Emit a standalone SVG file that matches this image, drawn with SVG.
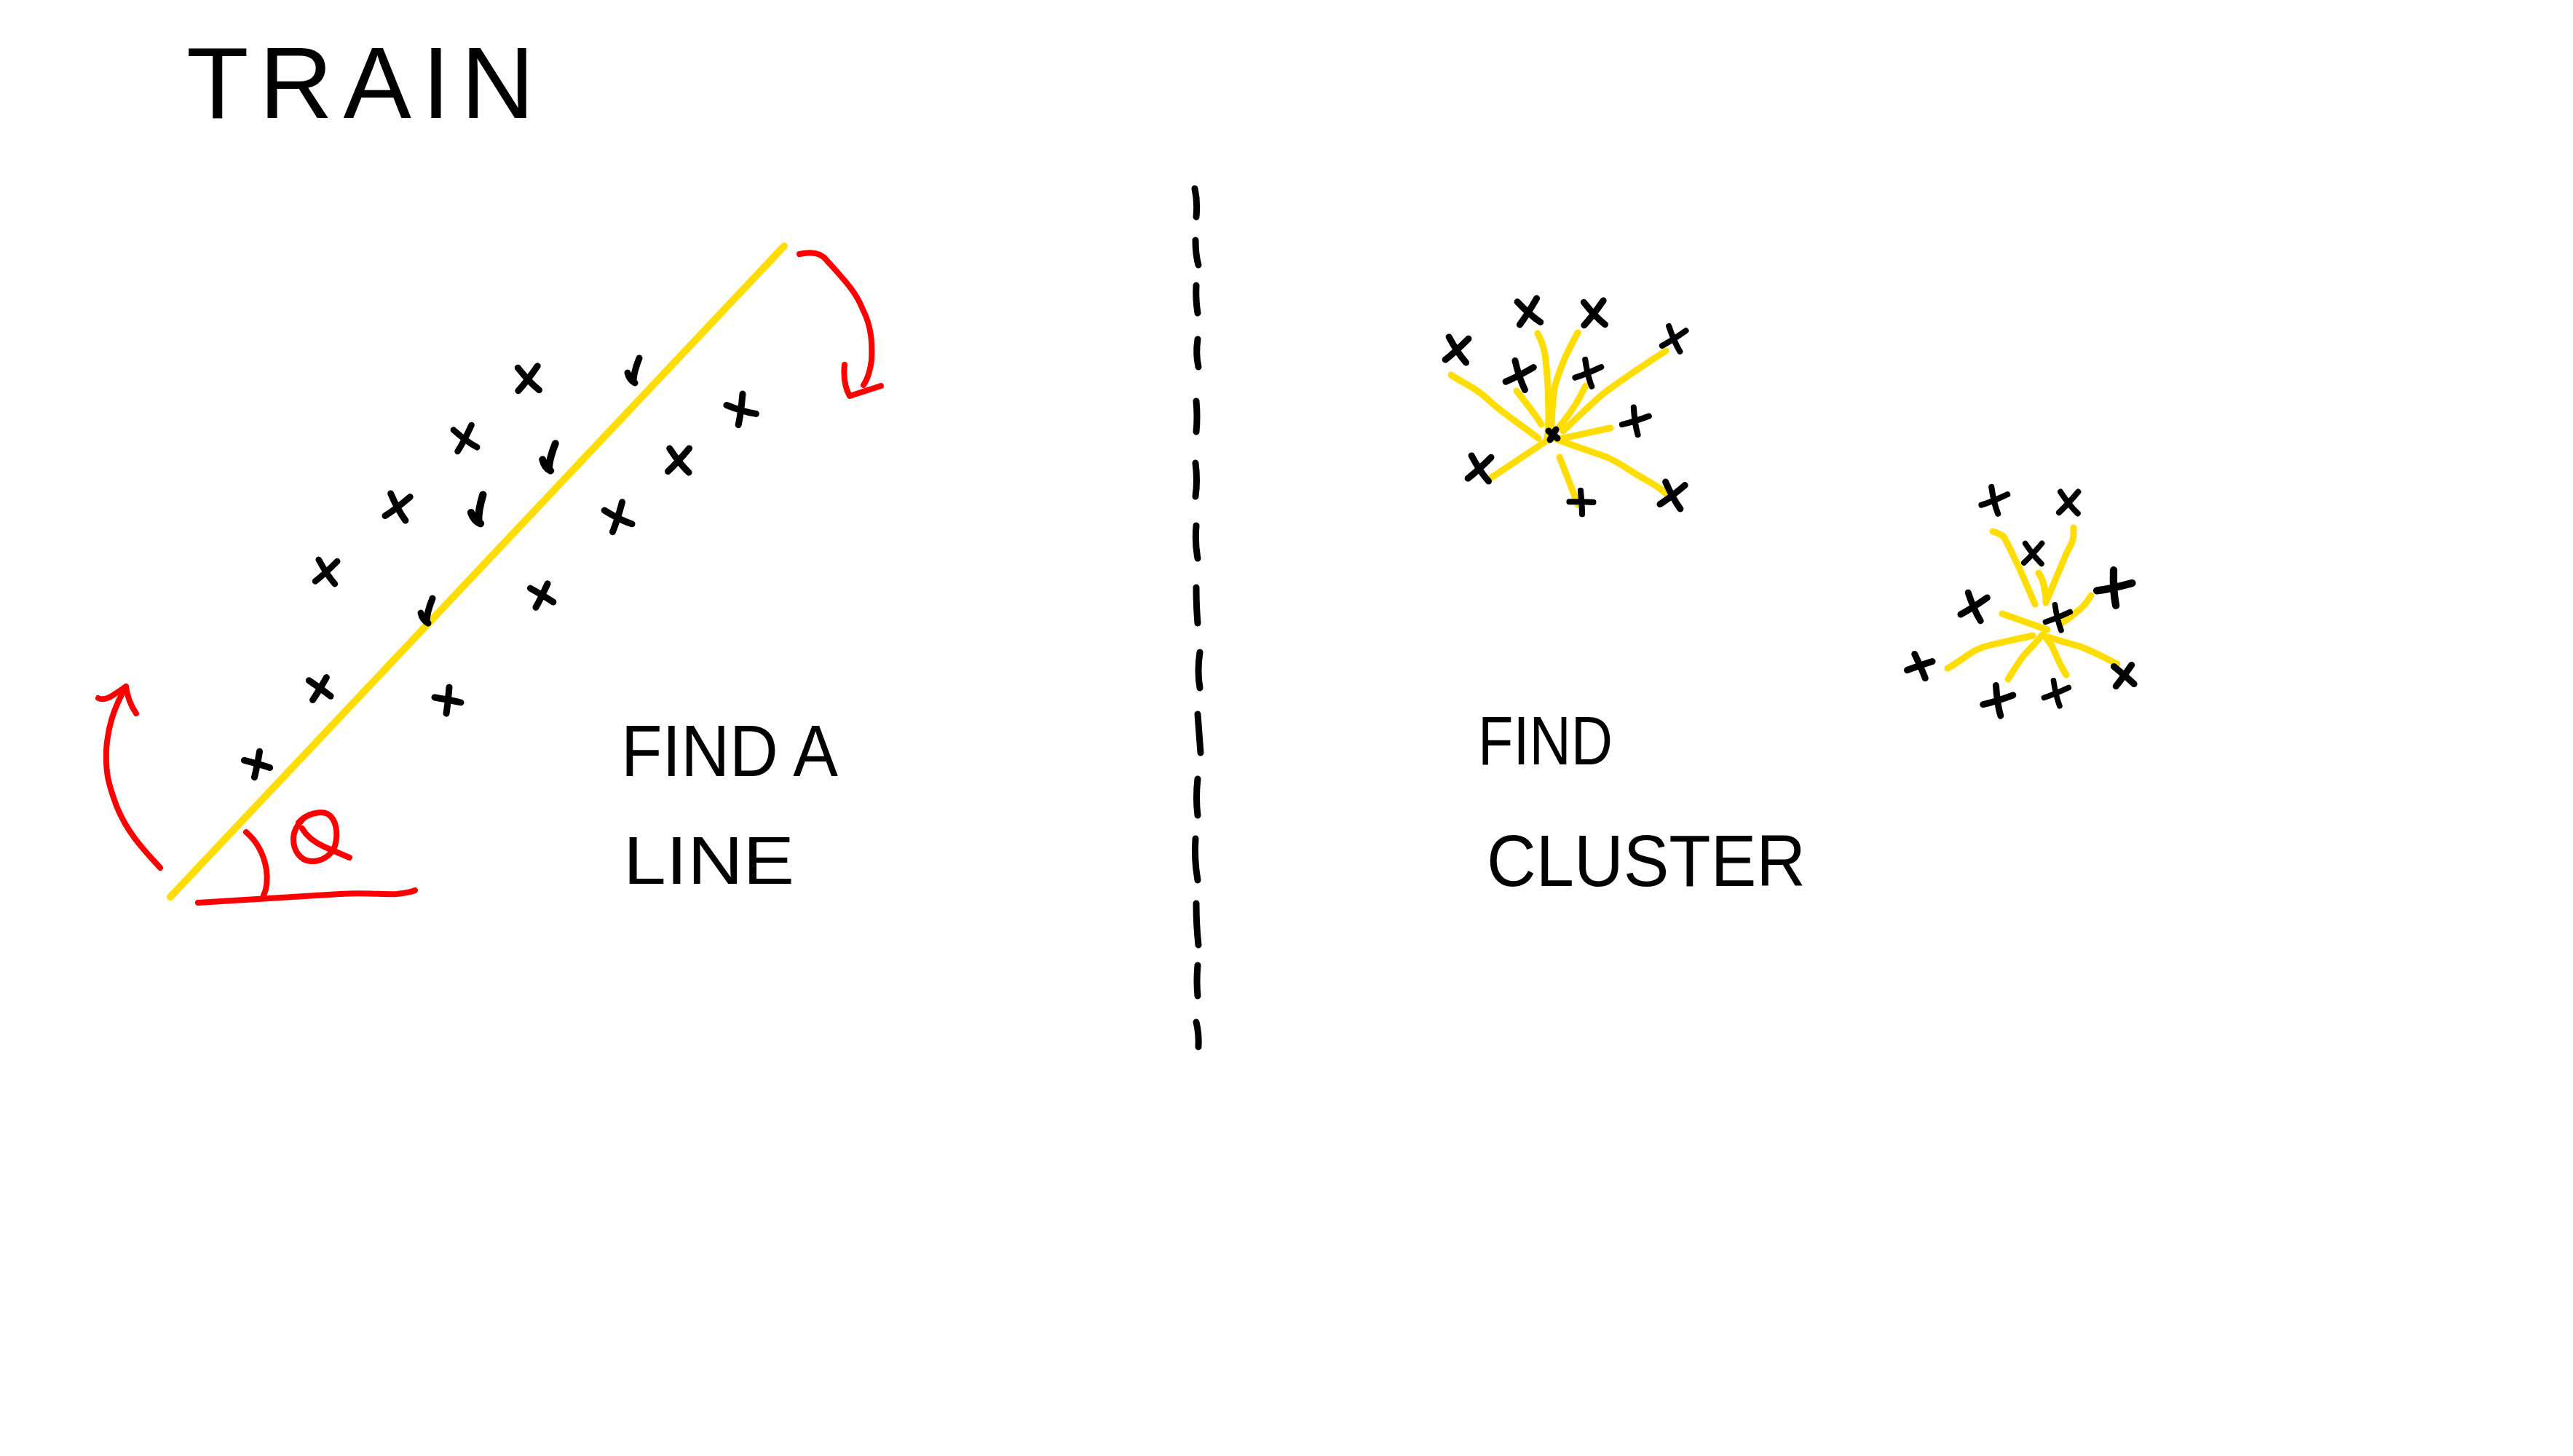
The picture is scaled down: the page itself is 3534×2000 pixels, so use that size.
<svg xmlns="http://www.w3.org/2000/svg" xmlns:xlink="http://www.w3.org/1999/xlink" width="3534" height="2000" viewBox="0 0 3534 2000">
<style>
.bg{fill:#ffffff}
.txt{font-family:"Liberation Sans","DejaVu Sans",sans-serif;fill:#000000}
.ink{fill:none;stroke:#000000;stroke-width:9;stroke-linecap:round;stroke-linejoin:round}
.red{fill:none;stroke:#ff0000;stroke-width:8;stroke-linecap:round;stroke-linejoin:round}
.yel{fill:none;stroke:#ffdd00;stroke-width:9;stroke-linecap:round;stroke-linejoin:round}
.dash{fill:none;stroke:#000000;stroke-width:9;stroke-linecap:round}
</style>
<defs>
<path id="xa" d="M-17,-12 C-8,-4 4,6 17,13 M9,-19 C3,-6 -4,8 -11,19"/>
<path id="xc" d="M-8,2 C-6,10 -2,14 2,16 M8,-18 C4,-8 0,4 0,14"/>
<path id="xp" d="M-18,-4 C-6,-2 6,0 18,3 M2,-18 C1,-6 0,6 -2,18"/>
</defs>
<rect class="bg" x="0" y="0" width="3534" height="2000"/>

<g id="title">
<text class="txt" x="256" y="162" font-size="140" textLength="478" lengthAdjust="spacing">TRAIN</text>
</g>

<g id="divider">
<path class="dash" d="M1641,259 q4,18 2,39"/>
<path class="dash" d="M1642,330 q0,20 4,34"/>
<path class="dash" d="M1643,392 q-1,20 2,38"/>
<path class="dash" d="M1645,466 q-3,20 1,38"/>
<path class="dash" d="M1643,551 q2,22 0,42"/>
<path class="dash" d="M1642,636 q3,24 0,46"/>
<path class="dash" d="M1643,722 q-2,24 2,45"/>
<path class="dash" d="M1643,807 q0,26 2,49"/>
<path class="dash" d="M1648,896 q-4,26 0,49"/>
<path class="dash" d="M1645,981 q2,28 4,53"/>
<path class="dash" d="M1645,1070 q-3,26 0,50"/>
<path class="dash" d="M1642,1152 q-2,28 3,57"/>
<path class="dash" d="M1643,1241 q0,30 3,57"/>
<path class="dash" d="M1645,1326 q-2,22 0,42"/>
<path class="dash" d="M1643,1404 q4,16 3,34"/>
</g>

<g id="find-line">
<path class="yel" style="stroke-width:10" d="M234,1232 L1077,338"/>
<g id="rotate-arrows">
<path class="red" d="M1098,349 C1115,345 1128,348 1135,357 C1160,385 1175,400 1185,425 C1198,450 1198,475 1197,495 C1195,510 1192,520 1186,529"/>
<path class="red" d="M1160,501 C1158,520 1162,535 1167,544 L1210,530"/>
<path class="red" d="M220,1192 C200,1170 175,1145 160,1107 C148,1075 145,1060 146,1030 C148,1000 155,975 173,943"/>
<path class="red" d="M135,959 C145,964 155,955 173,943 C175,958 180,970 187,980"/>
</g>
<g id="angle">
<path class="red" d="M338,1143 C352,1155 362,1170 366,1195 C368,1212 366,1222 362,1230"/>
<path class="red" d="M272,1240 L467,1228 C500,1226 530,1229 545,1228 C555,1227 565,1225 570,1223"/>
<path class="red" d="M410,1130 C420,1118 440,1113 450,1118 C462,1125 465,1145 460,1162 C455,1176 440,1184 427,1183 C412,1182 403,1168 403,1153 C403,1143 406,1136 417,1124"/>
<path class="red" d="M415,1138 C422,1150 432,1157 445,1163 L480,1178"/>
</g>
<g id="line-points" class="ink">
<use xlink:href="#xa" transform="translate(726,520) rotate(10)"/>
<use xlink:href="#xc" transform="translate(870,510)"/>
<use xlink:href="#xa" transform="translate(1018,562) rotate(-20)"/>
<use xlink:href="#xa" transform="translate(639,602) scale(0.95)"/>
<use xlink:href="#xc" transform="translate(754,629) scale(1.1)"/>
<use xlink:href="#xa" transform="translate(933,632) rotate(15)"/>
<use xlink:href="#xa" transform="translate(547,696) rotate(25)"/>
<use xlink:href="#xc" transform="translate(656,701) scale(1.15) rotate(-5)"/>
<use xlink:href="#xa" transform="translate(849,710) rotate(-10)"/>
<use xlink:href="#xa" transform="translate(449,785) scale(0.95) rotate(20)"/>
<use xlink:href="#xc" transform="translate(586,840)"/>
<use xlink:href="#xp" transform="translate(744,818) rotate(20)"/>
<use xlink:href="#xp" transform="translate(439,946) rotate(25)"/>
<use xlink:href="#xp" transform="translate(615,962)"/>
<use xlink:href="#xp" transform="translate(353,1050) rotate(5)"/>
</g>
<text class="txt" x="853" y="1066" font-size="100" textLength="298" lengthAdjust="spacingAndGlyphs">FIND A</text>
<text class="txt" x="856" y="1214" font-size="92" textLength="235" lengthAdjust="spacingAndGlyphs">LINE</text>
</g>

<g id="find-cluster">
<g id="cluster-1">
<g class="yel">
<path d="M1993,515 C2000,520 2008,524 2013,527 C2030,536 2040,545 2053,557 C2075,575 2095,588 2113,602"/>
<path d="M2083,537 C2095,552 2108,568 2117,583"/>
<path d="M2112,458 C2118,470 2121,478 2122,487 C2125,510 2127,540 2127,567 C2127,585 2126,595 2125,602"/>
<path d="M2167,457 C2160,470 2155,480 2150,490 C2144,505 2138,520 2135,533 C2132,555 2131,580 2130,597"/>
<path d="M2178,530 C2172,540 2168,550 2163,557 C2155,570 2145,582 2137,592"/>
<path d="M2288,482 C2260,500 2230,520 2203,540 C2185,555 2165,575 2147,592"/>
<path d="M2212,588 C2190,592 2160,600 2140,603"/>
<path d="M2137,603 C2160,612 2185,620 2207,628 C2225,636 2238,646 2250,653 C2265,662 2282,670 2293,683"/>
<path d="M2142,628 C2150,648 2158,668 2167,693"/>
<path d="M2122,607 C2095,625 2070,642 2047,657"/>
</g>
<g class="ink">
<path d="M2127,592 L2139,602 M2137,590 L2129,604"/>
<use xlink:href="#xa" transform="translate(2100,428) rotate(5)"/>
<use xlink:href="#xa" transform="translate(2190,430) rotate(10)"/>
<use xlink:href="#xa" transform="translate(2002,480) rotate(20)"/>
<use xlink:href="#xa" transform="translate(2088,515) rotate(35)"/>
<use xlink:href="#xa" transform="translate(2182,512) rotate(40) scale(0.9)"/>
<use xlink:href="#xa" transform="translate(2300,465) rotate(30) scale(0.9)"/>
<use xlink:href="#xa" transform="translate(2247,578) rotate(45) scale(0.9)"/>
<use xlink:href="#xa" transform="translate(2033,643) rotate(20)"/>
<use xlink:href="#xp" transform="translate(2172,690) rotate(-10) scale(0.9)"/>
<use xlink:href="#xa" transform="translate(2298,680) rotate(25)"/>
</g>
</g>
<g id="cluster-2">
<g class="yel">
<path d="M2737,730 C2744,732 2748,734 2752,737 C2770,770 2782,800 2795,830"/>
<path d="M2848,725 C2848,732 2848,737 2847,742 C2844,750 2840,756 2837,763 C2828,785 2818,808 2810,828"/>
<path d="M2800,787 C2804,793 2806,798 2807,803 C2809,812 2810,820 2810,827"/>
<path d="M2872,818 C2866,828 2860,835 2853,840 C2845,847 2838,852 2830,857"/>
<path d="M2750,843 C2770,850 2792,858 2812,865"/>
<path d="M2792,873 C2770,878 2750,882 2730,887 C2720,890 2713,893 2707,897 C2695,905 2686,912 2675,918"/>
<path d="M2805,872 C2797,882 2788,891 2780,900 C2772,910 2765,922 2758,933"/>
<path d="M2807,872 C2811,877 2815,882 2818,887 C2822,895 2826,905 2830,913 C2833,918 2835,923 2838,927"/>
<path d="M2813,875 C2828,880 2842,884 2857,888 C2875,895 2892,904 2908,912"/>
</g>
<g class="ink">
<use xlink:href="#xa" transform="translate(2740,687) rotate(40) scale(0.9)"/>
<use xlink:href="#xa" transform="translate(2842,690) rotate(15) scale(0.9)"/>
<use xlink:href="#xa" transform="translate(2793,760) rotate(15) scale(0.85)"/>
<use xlink:href="#xa" transform="translate(2905,807) rotate(50) scale(1.15)"/>
<use xlink:href="#xa" transform="translate(2712,833) rotate(30)"/>
<use xlink:href="#xa" transform="translate(2827,848) rotate(40) scale(0.85)"/>
<use xlink:href="#xp" transform="translate(2637,915) rotate(-30)"/>
<use xlink:href="#xp" transform="translate(2917,928) rotate(30)"/>
<use xlink:href="#xa" transform="translate(2745,962) rotate(45)"/>
<use xlink:href="#xa" transform="translate(2825,952) rotate(40) scale(0.85)"/>
</g>
</g>
<text class="txt" x="2030" y="1050" font-size="94" textLength="185" lengthAdjust="spacingAndGlyphs">FIND</text>
<text class="txt" x="2042" y="1217" font-size="100" textLength="438" lengthAdjust="spacingAndGlyphs">CLUSTER</text>
</g>
</svg>
